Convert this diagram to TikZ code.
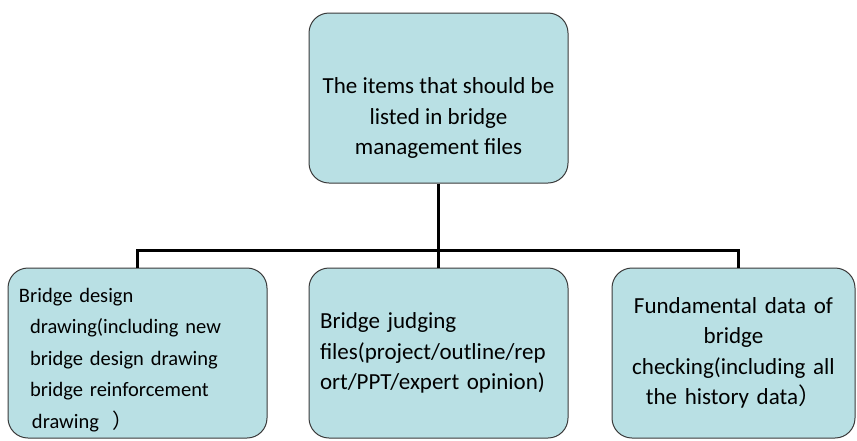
\documentclass[tikz,border=0pt]{standalone}
\usepackage{fontspec}
\usepackage{xcolor}
\setmainfont{Carlito}
\newfontfamily\cjk{Noto Sans CJK SC}
\definecolor{boxfill}{HTML}{B9E0E4}
\definecolor{boxline}{HTML}{3A3A3A}

\tikzset{
  box/.style = {draw = boxline, line width = 1pt, fill = boxfill, rounded corners = 20pt,
                minimum height = 170pt, minimum width = 259pt, inner sep = 0pt},
  link/.style = {line width = 3pt},
}

\begin{document}
\begin{tikzpicture}[x = 1pt, y = -1pt, font = \fontsize{23}{30.5}\selectfont]
  \useasboundingbox (0, 0) rectangle (857, 440);
  % boxes
  \node [box] (top) at (438.5, 98) {};
  \node [align = center] (toptxt) at ([yshift = -20pt]top.center)
    {The items that should be\\listed in bridge\\management files};
  \node [box] (left) at (137.5, 353) {};
  \node [align = left, text width = 237pt, inner sep = 0pt, font = \fontsize{20.5}{31.5}\selectfont]
    (lefttxt) at ([yshift = -7pt]left.center)
    {Bridge design\\
     \hspace*{11pt}drawing(including new\\
     \hspace*{11pt}bridge design drawing\\
     \hspace*{11pt}bridge reinforcement\\
     \hspace*{13pt}drawing\ \ {\cjk ）}};
  \node [box, align = left, text width = 237pt] (mid) at (438.5, 353)
    {Bridge judging\\files(project/outline/rep\\ort/PPT/expert opinion)};
  \node [box, align = center, text width = 236pt, minimum width = 243pt] (right) at (733.5, 353)
    {Fundamental data of\\bridge\\checking(including all\\the history data{\cjk ）}};
  % connectors
  \coordinate (bus) at (438.5, 250);
  \draw [link] (top.south) -- (bus);
  \draw [link] (left.north) |- (bus) -| ([xshift = 5pt]right.north);
  \draw [link] (bus) -- (mid.north);
\end{tikzpicture}
\end{document}
